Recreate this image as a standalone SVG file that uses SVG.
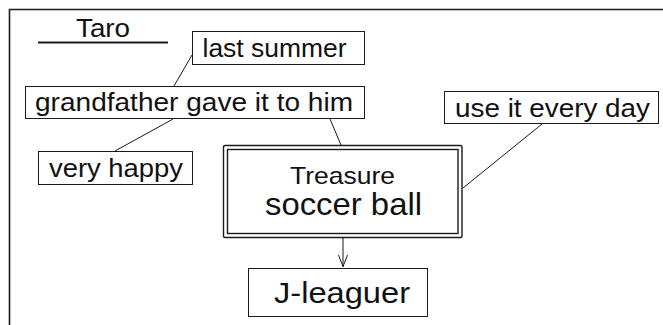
<svg xmlns="http://www.w3.org/2000/svg" width="663" height="325" viewBox="0 0 663 325">
<style>
.box{fill:#fff;stroke:#1a1a1a;stroke-width:1}
.t{font-family:"Liberation Sans",Arial,sans-serif;fill:#111}
.c{fill:none;stroke:#1a1a1a;stroke-width:1}
</style>
<rect width="663" height="325" fill="#fff"/>
<path d="M9.5 325 V9.5 H663" fill="none" stroke="#1a1a1a" stroke-width="1.6"/>
<g id="connectors">
<line class="c" x1="192" y1="55" x2="174" y2="86"/>
<line class="c" x1="173" y1="119" x2="115" y2="151"/>
<line class="c" x1="330" y1="119" x2="341" y2="145"/>
<line class="c" x1="542" y1="124" x2="463" y2="188"/>
<line class="c" x1="343" y1="238" x2="343" y2="267"/>
<path class="c" d="M338.5 255 L343 266.5 L347.5 255"/>
</g>
<g id="taro">
<text class="t" x="76" y="37" font-size="25" textLength="54" lengthAdjust="spacingAndGlyphs">Taro</text>
<line x1="38" y1="42.5" x2="168" y2="42.5" stroke="#1a1a1a" stroke-width="1.8"/>
</g>
<g id="last-summer">
<rect class="box" x="192.5" y="31.5" width="172" height="33"/>
<text class="t" x="202.5" y="56.5" font-size="26" textLength="144" lengthAdjust="spacingAndGlyphs">last summer</text>
</g>
<g id="grandfather">
<rect class="box" x="25.5" y="86.5" width="339" height="32"/>
<text class="t" x="35" y="111" font-size="26" textLength="318" lengthAdjust="spacingAndGlyphs">grandfather gave it to him</text>
</g>
<g id="very-happy">
<rect class="box" x="38.5" y="151.5" width="154" height="33"/>
<text class="t" x="49" y="176.5" font-size="26" textLength="134" lengthAdjust="spacingAndGlyphs">very happy</text>
</g>
<g id="use-it">
<rect class="box" x="444.5" y="91.5" width="214" height="32"/>
<text class="t" x="455" y="116.5" font-size="26" textLength="195" lengthAdjust="spacingAndGlyphs">use it every day</text>
</g>
<g id="treasure">
<rect x="223.5" y="145.5" width="238.5" height="92" rx="1.5" fill="#fff" stroke="#1a1a1a" stroke-width="1.4"/>
<rect x="227.5" y="149.5" width="230.5" height="84" fill="none" stroke="#1a1a1a" stroke-width="1.4"/>
<text class="t" x="290" y="184" font-size="24" textLength="105" lengthAdjust="spacingAndGlyphs">Treasure</text>
<text class="t" x="265" y="215" font-size="32" textLength="157" lengthAdjust="spacingAndGlyphs">soccer ball</text>
</g>
<g id="j-leaguer">
<rect class="box" x="248.5" y="268.5" width="179" height="48"/>
<text class="t" x="274" y="303.3" font-size="29" textLength="136" lengthAdjust="spacingAndGlyphs">J-leaguer</text>
</g>
</svg>
